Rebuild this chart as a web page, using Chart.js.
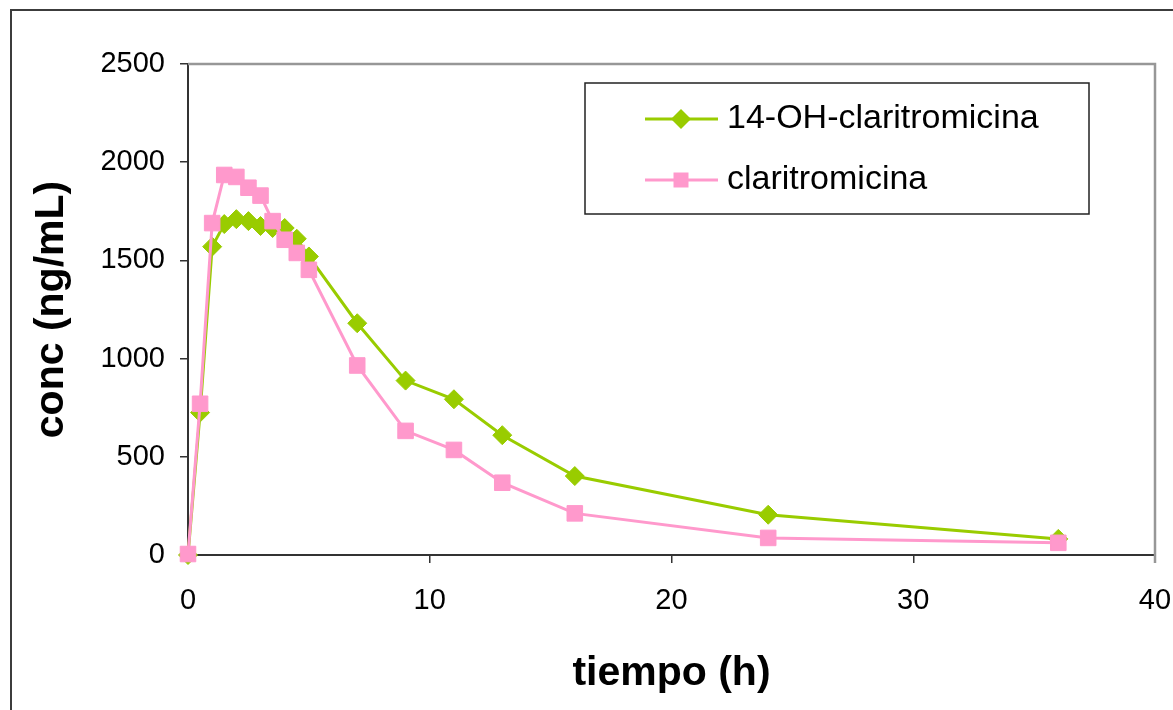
<!DOCTYPE html>
<html><head><meta charset="utf-8">
<script src="https://cdn.jsdelivr.net/npm/chart.js@4/dist/chart.umd.min.js"></script>
<style>
html,body{margin:0;padding:0;background:#fff;overflow:hidden;width:1173px;height:710px;}
#frame{position:absolute;left:10px;top:9px;width:1300px;height:900px;border-left:2px solid #3c3c3c;border-top:2px solid #3c3c3c;}
#c{position:absolute;left:0;top:0;}
</style></head><body>
<div id="frame"></div>
<canvas id="c" width="1173" height="710"></canvas>
<script>
const times = [0,0.5,1,1.5,2,2.5,3,3.5,4,4.5,5,7,9,11,13,16,24,36];
const hydroxyClari = [0,725,1570,1685,1710,1700,1675,1665,1665,1610,1520,1180,888,793,610,402,205,82];
const clari = [5,770,1690,1935,1925,1870,1830,1700,1605,1538,1452,965,632,535,368,212,87,62];
const xTicks = [0,10,20,30,40];
const yTicks = [0,500,1000,1500,2000,2500];
const seriesNames = ['14-OH-claritromicina','claritromicina'];
const xTitle = 'tiempo (h)';
const yTitle = 'conc (ng/mL)';

const FONT = "'Liberation Sans', Arial, sans-serif";
const GREEN = '#99CC00';
const PINK = '#FF99CC';

const plotBorder = {
  id:'plotBorder',
  beforeDatasetsDraw(chart){
    const {ctx, chartArea:a} = chart;
    ctx.save();
    ctx.strokeStyle = '#979797';
    ctx.lineWidth = 2.5;
    ctx.beginPath();
    ctx.moveTo(a.left, a.top);
    ctx.lineTo(a.right, a.top);
    ctx.lineTo(a.right, a.bottom + 8);
    ctx.stroke();
    ctx.restore();
  }
};

const boxLegend = {
  id:'boxLegend',
  afterDraw(chart){
    const ctx = chart.ctx;
    const bx = 585, by = 83, bw = 504, bh = 131;
    ctx.save();
    ctx.fillStyle = '#fff';
    ctx.fillRect(bx, by, bw, bh);
    ctx.strokeStyle = '#222';
    ctx.lineWidth = 1.5;
    ctx.strokeRect(bx, by, bw, bh);
    const rows = [119, 180];
    chart.data.datasets.forEach((ds, i) => {
      const y = rows[i];
      ctx.strokeStyle = ds.borderColor;
      ctx.lineWidth = 3;
      ctx.beginPath();
      ctx.moveTo(645, y);
      ctx.lineTo(718, y);
      ctx.stroke();
      ctx.fillStyle = ds.pointBackgroundColor;
      ctx.beginPath();
      if (ds.pointStyle === 'rectRot') {
        const r = 10;
        ctx.moveTo(681 - r, y); ctx.lineTo(681, y - r); ctx.lineTo(681 + r, y); ctx.lineTo(681, y + r);
        ctx.closePath();
      } else {
        ctx.rect(681 - 7.5, y - 7.5, 15, 15);
      }
      ctx.fill();
      ctx.fillStyle = '#000';
      ctx.font = '34px ' + FONT;
      ctx.textBaseline = 'middle';
      ctx.textAlign = 'left';
      ctx.fillText(ds.label, 727, y);
    });
    ctx.restore();
  }
};

new Chart(document.getElementById('c'), {
  type:'line',
  data:{
    datasets:[
      {label:seriesNames[0], data:times.map((t,i)=>({x:t,y:hydroxyClari[i]})),
       borderColor:GREEN, backgroundColor:GREEN, pointBackgroundColor:GREEN, pointBorderColor:GREEN,
       borderWidth:3, pointStyle:'rectRot', pointRadius:9.5, pointBorderWidth:1, order:1, clip:false, tension:0},
      {label:seriesNames[1], data:times.map((t,i)=>({x:t,y:clari[i]})),
       borderColor:PINK, backgroundColor:PINK, pointBackgroundColor:PINK, pointBorderColor:PINK,
       borderWidth:3, pointStyle:'rect', pointRadius:11, pointBorderWidth:1, order:0, clip:false, tension:0}
    ]
  },
  options:{
    responsive:false, animation:false, devicePixelRatio:1,
    layout:{padding:{left:0, top:64, right:18, bottom:0}},
    plugins:{legend:{display:false}, tooltip:{enabled:false}},
    scales:{
      x:{type:'linear', min:0, max:40,
        afterBuildTicks:s=>{s.ticks = xTicks.map(v=>({value:v}));},
        afterFit:s=>{s.height = 155; s.paddingRight = 0; s.paddingLeft = 0;},
        grid:{drawOnChartArea:false, drawTicks:true, tickLength:8, color:'#333', lineWidth:1.5},
        border:{color:'#333', width:2},
        ticks:{font:{family:FONT, size:29}, color:'#000', padding:21, maxRotation:0, autoSkip:false, callback:v=>String(v)},
        title:{display:true, text:xTitle, color:'#000', font:{family:FONT, size:41, weight:'bold'}, padding:{top:0, bottom:12}}
      },
      y:{type:'linear', min:0, max:2500,
        afterBuildTicks:s=>{s.ticks = yTicks.map(v=>({value:v}));},
        afterFit:s=>{s.width = 188; s.paddingTop = 0; s.paddingBottom = 0;},
        grid:{drawOnChartArea:false, drawTicks:true, tickLength:8, color:'#333', lineWidth:1.5},
        border:{color:'#333', width:2},
        ticks:{font:{family:FONT, size:29}, color:'#000', padding:15, autoSkip:false, callback:v=>String(v)},
        title:{display:true, text:yTitle, color:'#000', font:{family:FONT, size:41, weight:'bold'}, padding:{top:27, bottom:0}}
      }
    }
  },
  plugins:[plotBorder, boxLegend]
});
</script>
</body></html>
